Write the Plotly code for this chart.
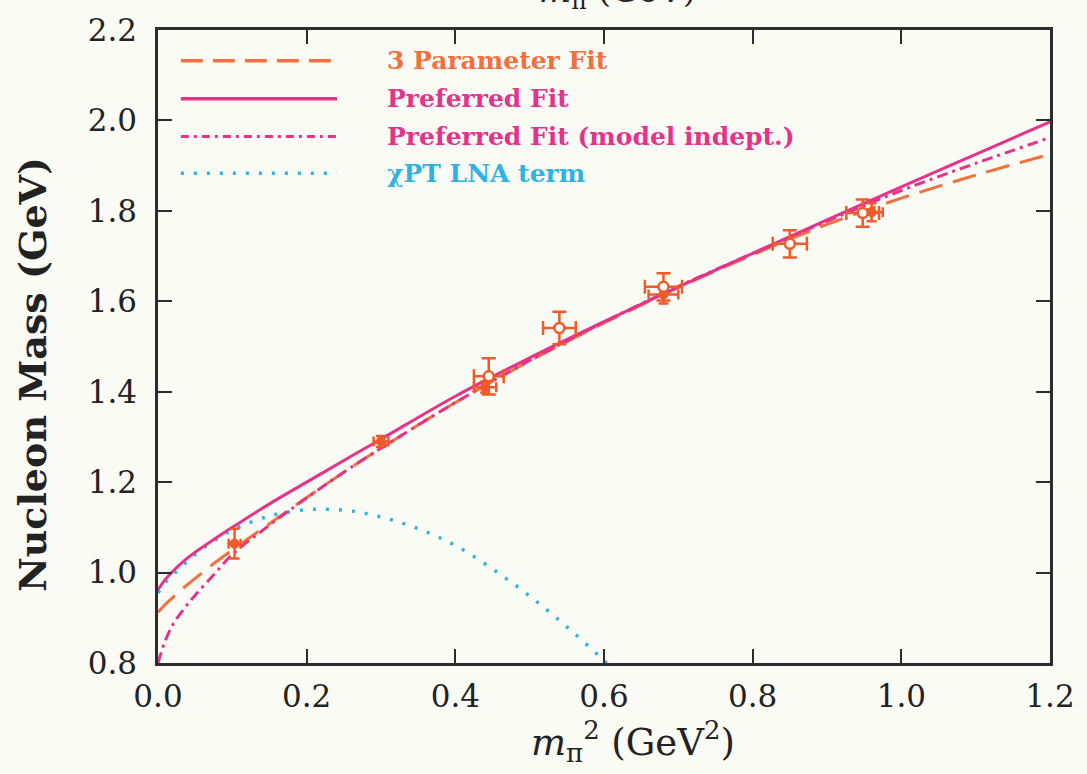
import plotly.graph_objects as go

# Pion mass squared grid (GeV^2) on which the fit curves are tabulated
fit_x = [0.0, 0.01, 0.02, 0.035, 0.05, 0.075, 0.1, 0.15, 0.2, 0.25, 0.3,
         0.4, 0.5, 0.6, 0.7, 0.8, 0.9, 1.0, 1.1, 1.2]

# Nucleon mass (GeV) for each fit
three_param_fit = [0.912, 0.93, 0.945, 0.967, 0.987, 1.02, 1.05, 1.108, 1.166,
                   1.222, 1.275, 1.376, 1.468, 1.552, 1.63, 1.703, 1.77, 1.828,
                   1.879, 1.925]
preferred_fit = [0.962, 0.985, 1.003, 1.026, 1.045, 1.073, 1.10, 1.152, 1.20,
                 1.248, 1.295, 1.39, 1.475, 1.555, 1.632, 1.706, 1.78, 1.853,
                 1.925, 1.997]
preferred_fit_mi = [0.80, 0.85, 0.885, 0.92, 0.95, 0.995, 1.04, 1.105, 1.165,
                    1.222, 1.275, 1.376, 1.469, 1.554, 1.633, 1.706, 1.777,
                    1.845, 1.905, 1.962]

# Chiral LNA term
lna_x = [0.0, 0.01, 0.02, 0.035, 0.05, 0.075, 0.1, 0.15, 0.2, 0.25, 0.3, 0.35,
         0.4, 0.45, 0.5, 0.55, 0.6, 0.62]
lna_term = [0.955, 0.978, 0.995, 1.018, 1.04, 1.07, 1.094, 1.125, 1.139, 1.138,
            1.123, 1.097, 1.06, 1.008, 0.948, 0.88, 0.805, 0.77]

# Lattice data, open symbols
open_x = [0.445, 0.54, 0.68, 0.85, 0.948]
open_y = [1.434, 1.541, 1.632, 1.727, 1.795]
open_ex = [0.02, 0.022, 0.025, 0.023, 0.022]
open_ey = [0.04, 0.036, 0.03, 0.03, 0.03]

# Lattice data, filled symbols
fill_x = [0.103, 0.30, 0.44, 0.68, 0.96]
fill_y = [1.064, 1.29, 1.41, 1.615, 1.797]
fill_ex = [0.008, 0.01, 0.015, 0.02, 0.015]
fill_ey = [0.033, 0.012, 0.012, 0.02, 0.02]

legend_labels = ["3 Parameter Fit", "Preferred Fit",
                 "Preferred Fit (model indept.)", "\u03c7PT LNA term"]

ORANGE = "#f2703c"
PINK = "#e5338a"
CYAN = "#2fb3e3"
DATA = "#ee5a2a"
AXIS = "#2d2d2d"
BG = "#fbfbf6"
INK = "#222"
SERIF = "DejaVu Serif"

fig = go.Figure()

fig.add_trace(go.Scatter(x=lna_x, y=lna_term, mode="lines", line_shape="spline",
                         line=dict(color=CYAN, width=3.5, dash="3px,10px")))
fig.add_trace(go.Scatter(x=fit_x, y=three_param_fit, mode="lines", line_shape="spline",
                         line=dict(color=ORANGE, width=3, dash="24px,11px")))
fig.add_trace(go.Scatter(x=fit_x, y=preferred_fit_mi, mode="lines", line_shape="spline",
                         line=dict(color=PINK, width=3, dash="11px,5px,3px,5px")))
fig.add_trace(go.Scatter(x=fit_x, y=preferred_fit, mode="lines", line_shape="spline",
                         line=dict(color=PINK, width=3)))

fig.add_trace(go.Scatter(
    x=fill_x, y=fill_y, mode="markers",
    marker=dict(color=DATA, size=10, symbol="circle"),
    error_x=dict(type="data", array=fill_ex, color=DATA, thickness=2.5, width=5),
    error_y=dict(type="data", array=fill_ey, color=DATA, thickness=2.5, width=5)))
fig.add_trace(go.Scatter(
    x=open_x, y=open_y, mode="markers",
    marker=dict(color=BG, size=10, symbol="circle",
                line=dict(color=DATA, width=2.5)),
    error_x=dict(type="data", array=open_ex, color=DATA, thickness=2.5, width=7),
    error_y=dict(type="data", array=open_ey, color=DATA, thickness=2.5, width=7)))

# Hand-drawn key: line samples as paper-referenced shapes, labels as annotations
W, H = 1087, 774
L, R, T, B = 158, 32, 27, 111
pw, ph = W - L - R, H - T - B


def px(xp):
    return (xp - L) / pw


def py(yp):
    return 1 - (yp - T) / ph


key_rows = [58, 96, 134, 171]
key_styles = [
    dict(color=ORANGE, width=3.5, dash="22px,10px"),
    dict(color=PINK, width=3.5),
    dict(color=PINK, width=3, dash="8px,5px,3px,5px"),
    dict(color=CYAN, width=3.5, dash="3px,10px"),
]
key_colors = [ORANGE, PINK, PINK, CYAN]
for yrow, style, label, col in zip(key_rows, key_styles, legend_labels, key_colors):
    fig.add_shape(type="line", xref="paper", yref="paper",
                  x0=px(181), x1=px(338), y0=py(yrow), y1=py(yrow), line=style)
    fig.add_annotation(xref="paper", yref="paper", x=px(386), y=py(yrow),
                       xanchor="left", yanchor="middle", showarrow=False,
                       text=f"<b>{label}</b>",
                       font=dict(family=SERIF, size=25, color=col))

# Top axis label, running off the top edge of the page
fig.add_annotation(xref="paper", yref="paper", x=px(620), y=py(14),
                   xanchor="center", yanchor="bottom", showarrow=False,
                   text="<i>m</i><sub>\u03c0</sub> (GeV)",
                   font=dict(family=SERIF, size=34, color=INK))

# Axis titles
fig.add_annotation(xref="paper", yref="paper", x=px(636), y=py(742),
                   xanchor="center", yanchor="middle", showarrow=False,
                   text="<i>m</i><sub>\u03c0</sub><sup>2</sup> (GeV<sup>2</sup>)",
                   font=dict(family=SERIF, size=37, color=INK))
fig.add_annotation(xref="paper", yref="paper", x=px(32), y=py(373),
                   xanchor="center", yanchor="middle", showarrow=False,
                   textangle=-90, text="<b>Nucleon Mass (GeV)</b>",
                   font=dict(family=SERIF, size=38, color=INK))

axis_common = dict(showline=True, linewidth=2.5, linecolor=AXIS, mirror="ticks",
                   ticks="inside", ticklen=14, tickwidth=2, tickcolor=AXIS,
                   showgrid=False, zeroline=False,
                   tickfont=dict(family=SERIF, size=31, color=INK))

fig.update_xaxes(range=[0, 1.2], tickvals=[0, 0.2, 0.4, 0.6, 0.8, 1.0, 1.2],
                 ticktext=["0.0", "0.2", "0.4", "0.6", "0.8", "1.0", "1.2"],
                 ticklabelstandoff=4, **axis_common)
fig.update_yaxes(range=[0.8, 2.2], tickvals=[0.8, 1.0, 1.2, 1.4, 1.6, 1.8, 2.0, 2.2],
                 ticktext=["0.8", "1.0", "1.2", "1.4", "1.6", "1.8", "2.0", "2.2"],
                 ticklabelstandoff=12, **axis_common)

fig.update_layout(width=W, height=H, showlegend=False,
                  margin=dict(l=L, r=R, t=T, b=B),
                  paper_bgcolor=BG, plot_bgcolor=BG)

fig.write_html("out.html")
